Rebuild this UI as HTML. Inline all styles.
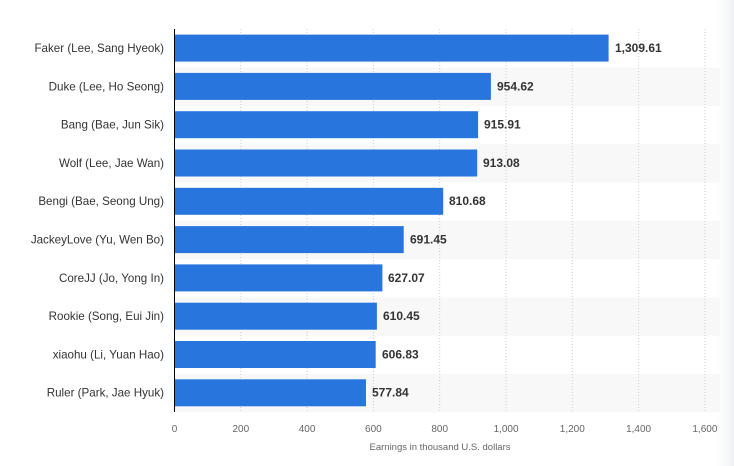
<!DOCTYPE html>
<html><head><style>
body{margin:0;background:#fff;}
svg{display:block;font-family:"Liberation Sans",sans-serif;}
</style></head><body>
<svg width="734" height="466" viewBox="0 0 734 466">
<defs><linearGradient id="g" x1="0" x2="1"><stop offset="0" stop-color="#fff" stop-opacity="0"/><stop offset="1" stop-color="#eef0f3"/></linearGradient></defs>
<rect x="712" y="0" width="22" height="466" fill="url(#g)"/>
<g fill="#f8f8f8">
<rect x="174" y="67.6" width="546" height="38.3"/>
<rect x="174" y="144.2" width="546" height="38.3"/>
<rect x="174" y="220.8" width="546" height="38.3"/>
<rect x="174" y="297.4" width="546" height="38.3"/>
<rect x="174" y="374" width="546" height="38.3"/>
</g>
<g stroke="#ccc" stroke-dasharray="1,2">
<line x1="240.8" y1="29" x2="240.8" y2="412"/>
<line x1="307.1" y1="29" x2="307.1" y2="412"/>
<line x1="373.4" y1="29" x2="373.4" y2="412"/>
<line x1="439.7" y1="29" x2="439.7" y2="412"/>
<line x1="506" y1="29" x2="506" y2="412"/>
<line x1="572.3" y1="29" x2="572.3" y2="412"/>
<line x1="638.6" y1="29" x2="638.6" y2="412"/>
<line x1="704.9" y1="29" x2="704.9" y2="412"/>
</g>
<g fill="#2876dd">
<rect x="174.5" y="34.6" width="434.1" height="27"/>
<rect x="174.5" y="72.9" width="316.4" height="27"/>
<rect x="174.5" y="111.2" width="303.6" height="27"/>
<rect x="174.5" y="149.5" width="302.7" height="27"/>
<rect x="174.5" y="187.8" width="268.7" height="27"/>
<rect x="174.5" y="226.1" width="229.2" height="27"/>
<rect x="174.5" y="264.4" width="207.9" height="27"/>
<rect x="174.5" y="302.7" width="202.4" height="27"/>
<rect x="174.5" y="341" width="201.2" height="27"/>
<rect x="174.5" y="379.3" width="191.5" height="27"/>
</g>
<line x1="174.5" y1="29" x2="174.5" y2="412" stroke="#000" stroke-width="1"/>
<g font-size="11.6" fill="#333" text-anchor="end">
<text x="164" y="52">Faker (Lee, Sang Hyeok)</text>
<text x="164" y="90.3">Duke (Lee, Ho Seong)</text>
<text x="164" y="128.6">Bang (Bae, Jun Sik)</text>
<text x="164" y="166.9">Wolf (Lee, Jae Wan)</text>
<text x="164" y="205.2">Bengi (Bae, Seong Ung)</text>
<text x="164" y="243.5">JackeyLove (Yu, Wen Bo)</text>
<text x="164" y="281.8">CoreJJ (Jo, Yong In)</text>
<text x="164" y="320.1">Rookie (Song, Eui Jin)</text>
<text x="164" y="358.4">xiaohu (Li, Yuan Hao)</text>
<text x="164" y="396.7">Ruler (Park, Jae Hyuk)</text>
</g>
<g font-size="12" fill="#333" font-weight="bold">
<text x="615" y="52">1,309.61</text>
<text x="497" y="90.3">954.62</text>
<text x="484" y="128.6">915.91</text>
<text x="483" y="166.9">913.08</text>
<text x="449" y="205.2">810.68</text>
<text x="410" y="243.5">691.45</text>
<text x="388" y="281.8">627.07</text>
<text x="383" y="320.1">610.45</text>
<text x="382" y="358.4">606.83</text>
<text x="372" y="396.7">577.84</text>
</g>
<g font-size="10" fill="#666" text-anchor="middle">
<text x="174.5" y="432">0</text>
<text x="240.8" y="432">200</text>
<text x="307.1" y="432">400</text>
<text x="373.4" y="432">600</text>
<text x="439.7" y="432">800</text>
<text x="506" y="432">1,000</text>
<text x="572.3" y="432">1,200</text>
<text x="638.6" y="432">1,400</text>
<text x="704.9" y="432">1,600</text>
<text x="440" y="450" font-size="9.5">Earnings in thousand U.S. dollars</text>
</g>
</svg>
</body></html>
